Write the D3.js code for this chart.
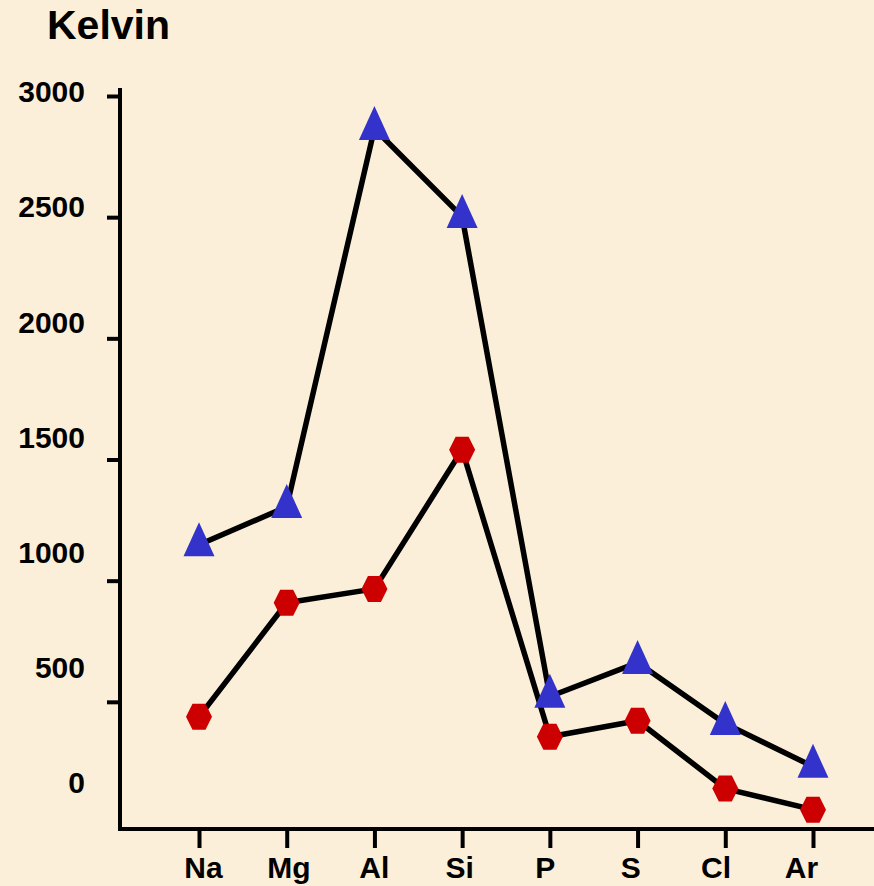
<!DOCTYPE html>
<html>
<head>
<meta charset="utf-8">
<script src="https://cdn.jsdelivr.net/npm/d3@7"></script>
<style>
  html, body { margin: 0; padding: 0; background: #FCEFD9; }
  svg { display: block; }
  text { font-family: "Liberation Sans", Arial, sans-serif; font-weight: bold; fill: #000; }
</style>
</head>
<body>
<script>
// Period 3 elements and their boiling / melting points (Kelvin)
const elements = ["Na", "Mg", "Al", "Si", "P", "S", "Cl", "Ar"];
const boilingPoints = [1148, 1305, 2865, 2502, 522, 662, 410, 233];
const meltingPoints = [438, 909, 966, 1540, 356, 422, 142, 55];
const yTickValues = [500, 1000, 1500, 2000, 2500, 3000];
const yLabelValues = [0, 500, 1000, 1500, 2000, 2500, 3000];
const unitLabel = "Kelvin";

const W = 874, H = 886;
const axisX = 120, axisY = 829;

const svg = d3.select("body").append("svg")
  .attr("width", W).attr("height", H);

svg.append("rect").attr("width", W).attr("height", H).attr("fill", "#FCEFD9");

// Scales
const x = d3.scalePoint().domain(elements).range([199, 813]);
const xLabel = d3.scalePoint().domain(elements).range([203, 801]);
const y = d3.scaleLinear().domain([0, 3000]).range([823, 96]);
const yLabel = d3.scaleLinear().domain([0, 3000]).range([782, 91]);

// Title
svg.append("text").attr("x", 47).attr("y", 39)
  .style("font-size", "41px").text(unitLabel);

// Y axis ticks
const yAxis = svg.append("g").attr("transform", `translate(${axisX},0)`)
  .call(d3.axisLeft(y).tickValues(yTickValues).tickSize(13).tickFormat(""));
yAxis.select(".domain").remove();
yAxis.selectAll(".tick line").attr("stroke", "#000").attr("stroke-width", 4);

// Y labels
const yLab = svg.append("g").attr("transform", `translate(85,0)`)
  .call(d3.axisLeft(yLabel).tickValues(yLabelValues).tickSize(0).tickPadding(0).tickFormat(d3.format("d")));
yLab.select(".domain").remove();
yLab.selectAll(".tick text").style("font-size", "30px").attr("dy", "0.36em")
  .attr("fill", "#000").attr("font-family", null);

// X axis ticks
const xAxis = svg.append("g").attr("transform", `translate(0,${axisY})`)
  .call(d3.axisBottom(x).tickSize(19).tickFormat(""));
xAxis.select(".domain").remove();
xAxis.selectAll(".tick line").attr("stroke", "#000").attr("stroke-width", 4);

// X labels
const xLab = svg.append("g").attr("transform", `translate(0,${axisY})`)
  .call(d3.axisBottom(xLabel).tickSize(0).tickPadding(0));
xLab.select(".domain").remove();
xLab.selectAll(".tick text").style("font-size", "30px").attr("dy", null).attr("y", 49)
  .attr("fill", "#000").attr("font-family", null);

// Axis lines
svg.append("line").attr("x1", axisX).attr("x2", axisX)
  .attr("y1", y(3000) - 8).attr("y2", axisY + 2)
  .attr("stroke", "#000").attr("stroke-width", 4);
svg.append("line").attr("x1", axisX).attr("x2", W)
  .attr("y1", axisY).attr("y2", axisY)
  .attr("stroke", "#000").attr("stroke-width", 4);

// Series lines
const line = d3.line().x((d, i) => x(elements[i])).y(d => y(d));
[boilingPoints, meltingPoints].forEach(series => {
  svg.append("path").datum(series).attr("d", line)
    .attr("fill", "none").attr("stroke", "#000")
    .attr("stroke-width", 5.5).attr("stroke-linejoin", "round");
});

// Markers: triangles for boiling, hexagons for melting
function trianglePath() {
  const p = d3.path();
  const h = 34, hw = 15.5;
  p.moveTo(0, -2 * h / 3);
  p.lineTo(hw, h / 3);
  p.lineTo(-hw, h / 3);
  p.closePath();
  return p.toString();
}
function hexagonPath() {
  const p = d3.path();
  const rx = 13, ry = 13, fx = 6.5;
  p.moveTo(-rx, 0);
  p.lineTo(-fx, -ry);
  p.lineTo(fx, -ry);
  p.lineTo(rx, 0);
  p.lineTo(fx, ry);
  p.lineTo(-fx, ry);
  p.closePath();
  return p.toString();
}

svg.append("g").selectAll("path").data(meltingPoints).join("path")
  .attr("d", hexagonPath())
  .attr("transform", (d, i) => `translate(${x(elements[i])},${y(d)})`)
  .attr("fill", "#CC0000");

svg.append("g").selectAll("path").data(boilingPoints).join("path")
  .attr("d", trianglePath())
  .attr("transform", (d, i) => `translate(${x(elements[i])},${y(d)})`)
  .attr("fill", "#3333CC");
</script>
</body>
</html>
